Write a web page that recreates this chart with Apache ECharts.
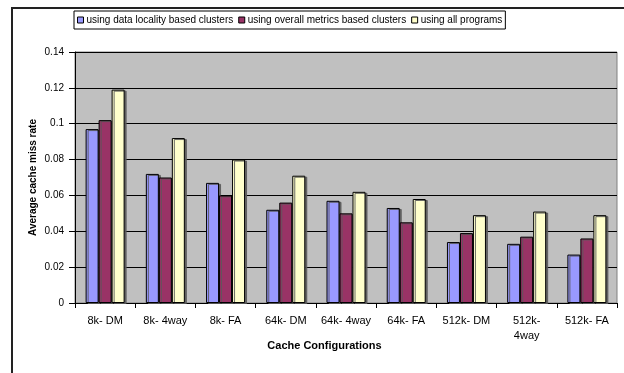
<!DOCTYPE html>
<html>
<head>
<meta charset="utf-8">
<script src="https://cdn.jsdelivr.net/npm/echarts@6/dist/echarts.min.js"></script>
<style>
html,body{margin:0;padding:0;background:#fff;}
#chart{width:624px;height:373px;}
</style>
</head>
<body>
<div id="chart"></div>
<script>
const categories = ['8k- DM', '8k- 4way', '8k- FA', '64k- DM', '64k- 4way', '64k- FA', '512k- DM', '512k- 4way', '512k- FA'];
const seriesNames = ['using data locality based clusters', 'using overall metrics based clusters', 'using all programs'];
const localityValues = [0.097, 0.072, 0.067, 0.052, 0.057, 0.053, 0.034, 0.033, 0.027];
const overallValues = [0.102, 0.070, 0.060, 0.056, 0.050, 0.045, 0.039, 0.037, 0.036];
const allProgramsValues = [0.119, 0.092, 0.080, 0.071, 0.062, 0.058, 0.049, 0.051, 0.049];
const yTicks = [0, 0.02, 0.04, 0.06, 0.08, 0.1, 0.12, 0.14];
const colors = ['#9999FF', '#993366', '#FFFFCC'];

const font = 'Liberation Sans, Arial, sans-serif';
const chart = echarts.init(document.getElementById('chart'), null, {renderer: 'canvas'});

function bar(name, data, color) {
  return {
    name: name,
    type: 'bar',
    data: data,
    barWidth: 13,
    barGap: '0%',
    itemStyle: {
      color: color,
      borderColor: '#000',
      borderWidth: 1,
      shadowColor: 'rgba(90,90,90,0.9)',
      shadowBlur: 0,
      shadowOffsetX: 2,
      shadowOffsetY: 1
    },
    emphasis: {disabled: true},
    animation: false
  };
}

chart.setOption({
  animation: false,
  color: colors,
  graphic: [{
    type: 'rect',
    shape: {x: 12, y: 8, width: 700, height: 500},
    style: {fill: 'none', stroke: '#222', lineWidth: 2},
    silent: true,
    z: 100
  }],
  legend: {
    left: 74,
    top: 11,
    padding: [4, 3, 4, 3],
    itemGap: 5,
    itemWidth: 6,
    itemHeight: 6,
    icon: 'rect',
    borderColor: '#000',
    borderWidth: 1,
    backgroundColor: '#fff',
    itemStyle: {borderColor: '#000', borderWidth: 1, shadowBlur: 0, shadowOffsetX: 0, shadowOffsetY: 0, shadowColor: 'transparent'},
    textStyle: {fontFamily: font, fontSize: 10, color: '#000', padding: [0, 0, 0, -2]},
    data: seriesNames
  },
  grid: {
    left: 75,
    right: 7,
    top: 52,
    bottom: 70,
    show: true,
    backgroundColor: '#C0C0C0',
    borderColor: '#808080',
    borderWidth: 1
  },
  xAxis: {
    type: 'category',
    data: categories,
    boundaryGap: true,
    axisLine: {lineStyle: {color: '#000', width: 1}},
    axisTick: {show: true, alignWithLabel: false, length: 5, lineStyle: {color: '#000'}},
    axisLabel: {
      fontFamily: font, fontSize: 11, color: '#000', margin: 10, lineHeight: 15,
      interval: 0,
      formatter: function (v) { return v.length > 9 ? v.replace(' ', '\n') : v; }
    },
    name: 'Cache Configurations',
    nameLocation: 'middle',
    nameMoveOverlap: false,
    nameGap: 37,
    nameTextStyle: {fontFamily: font, fontSize: 11, fontWeight: 'bold', color: '#000', padding: [0, 43, 0, 0]}
  },
  yAxis: {
    type: 'value',
    min: yTicks[0],
    max: yTicks[yTicks.length - 1],
    interval: 0.02,
    axisLine: {show: true, lineStyle: {color: '#000', width: 1}},
    axisTick: {show: true, length: 6, lineStyle: {color: '#000'}},
    splitLine: {show: true, lineStyle: {color: '#000', width: 1}},
    axisLabel: {
      fontFamily: font, fontSize: 10, color: '#000', margin: 11,
      formatter: function (v) { return String(Math.round(v * 100) / 100); }
    },
    name: 'Average cache miss rate',
    nameLocation: 'middle',
    nameMoveOverlap: false,
    nameGap: 37,
    nameTextStyle: {fontFamily: font, fontSize: 10, fontWeight: 'bold', color: '#000'}
  },
  series: [
    bar(seriesNames[0], localityValues, colors[0]),
    bar(seriesNames[1], overallValues, colors[1]),
    bar(seriesNames[2], allProgramsValues, colors[2])
  ]
});
</script>
</body>
</html>
